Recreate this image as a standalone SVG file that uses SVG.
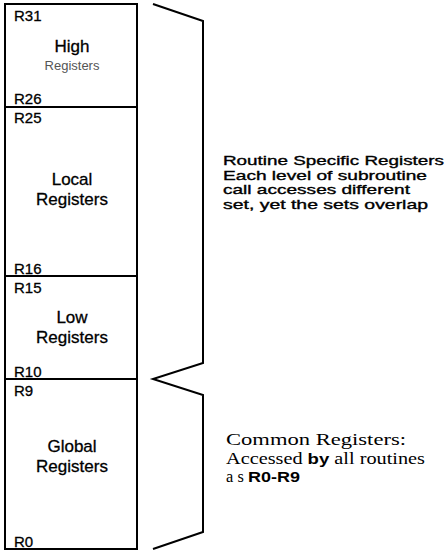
<svg xmlns="http://www.w3.org/2000/svg" width="446" height="552" viewBox="0 0 446 552">
<style>
.ln{fill:none;stroke:#000;stroke-width:2;stroke-linejoin:miter}
.reg{font-family:"Liberation Sans",Arial,sans-serif;font-size:15px;fill:#000;stroke:#000;stroke-width:0.3}
.lbl{font-family:"Liberation Sans",Arial,sans-serif;font-size:17px;fill:#000;text-anchor:middle;stroke:#000;stroke-width:0.3}
.note{font-family:"Liberation Sans",Arial,sans-serif;font-size:12.9px;fill:#000;stroke:#000;stroke-width:0.35}
.serif{font-family:"Liberation Serif","Times New Roman",serif;font-size:16.4px;fill:#000}
.b{font-family:"Liberation Sans",Arial,sans-serif;font-weight:bold;font-size:15px}
</style>
<rect width="446" height="552" fill="#fff"/>
<g id="high">
<rect class="ln" x="5" y="4" width="132" height="103"/>
<text class="reg" x="14" y="21">R31</text>
<text class="lbl" x="72" y="52">High</text>
<text class="lbl" x="72" y="70" style="font-size:13px;fill:#555;stroke:none">Registers</text>
<text class="reg" x="14" y="104">R26</text>
</g>
<g id="local">
<rect class="ln" x="5" y="107" width="132" height="169"/>
<text class="reg" x="14" y="123">R25</text>
<text class="lbl" x="72" y="185">Local</text>
<text class="lbl" x="72" y="205">Registers</text>
<text class="reg" x="14" y="274">R16</text>
</g>
<g id="low">
<rect class="ln" x="5" y="276" width="132" height="103"/>
<text class="reg" x="14" y="293">R15</text>
<text class="lbl" x="72" y="323">Low</text>
<text class="lbl" x="72" y="343">Registers</text>
<text class="reg" x="14" y="377">R10</text>
</g>
<g id="global">
<rect class="ln" x="5" y="379" width="132" height="170"/>
<text class="reg" x="14" y="396">R9</text>
<text class="lbl" x="72" y="452">Global</text>
<text class="lbl" x="72" y="472">Registers</text>
<text class="reg" x="14" y="547">R0</text>
</g>
<g id="connectors">
<polyline class="ln" points="153,4 203,21 203,363 153,379 203,395 203,532 153,549"/>
</g>
<g id="routine-note">
<text class="note" x="223" y="165" textLength="221" lengthAdjust="spacingAndGlyphs">Routine Specific Registers</text>
<text class="note" x="223" y="179.5" textLength="204" lengthAdjust="spacingAndGlyphs">Each level of subroutine</text>
<text class="note" x="223" y="194" textLength="187" lengthAdjust="spacingAndGlyphs">call accesses different</text>
<text class="note" x="223" y="208.5" textLength="205" lengthAdjust="spacingAndGlyphs">set, yet the sets overlap</text>
</g>
<g id="common-note">
<text class="serif" x="226" y="445" textLength="180" lengthAdjust="spacingAndGlyphs">Common  Registers:</text>
<text class="serif" x="226" y="463.5" textLength="199" lengthAdjust="spacingAndGlyphs">Accessed <tspan class="b">by</tspan> all routines</text>
<text class="serif" x="226" y="482" textLength="18" lengthAdjust="spacing">as</text>
<text class="b" x="248" y="482" textLength="52" lengthAdjust="spacingAndGlyphs">R0-R9</text>
</g>
</svg>
